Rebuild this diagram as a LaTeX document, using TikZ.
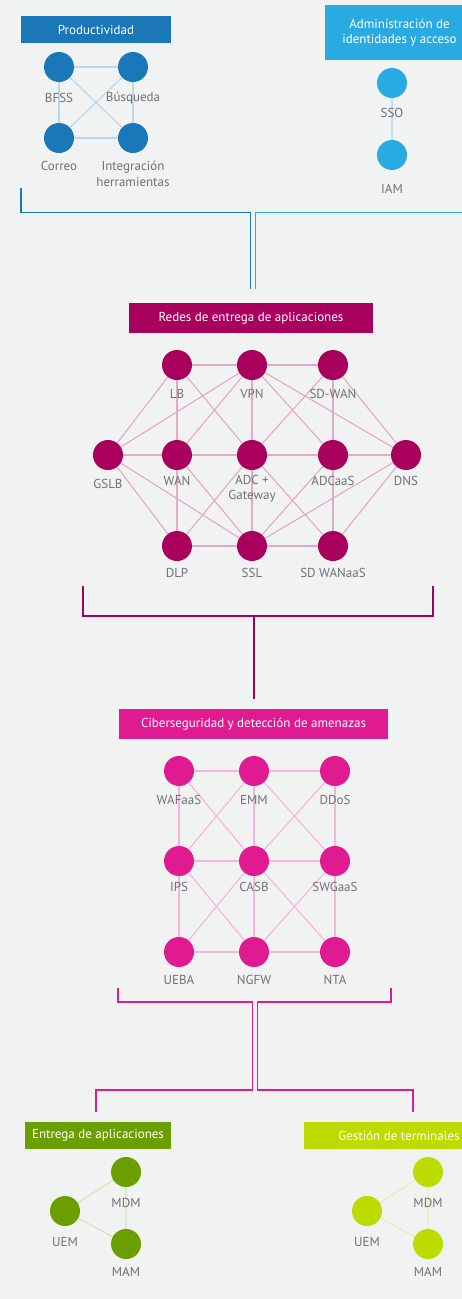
\documentclass[tikz,border=0pt]{standalone}
\usepackage{fontspec}
\setmainfont{PT Sans}
\usepackage{tikz}
\usetikzlibrary{%
  calc,
  positioning,
  backgrounds,
}

\definecolor{bgGray}{HTML}{F1F2F2}
\definecolor{txtGray}{HTML}{6F7275}
\definecolor{prodBlue}{HTML}{1A78B9}
\definecolor{prodEdge}{HTML}{BBD5E9}
\definecolor{iamBlue}{HTML}{29ABE2}
\definecolor{iamEdge}{HTML}{BCE2F3}
\definecolor{adnRed}{HTML}{A8005C}
\definecolor{adnEdge}{HTML}{E3A9C8}
\definecolor{secPink}{HTML}{E01A90}
\definecolor{secEdge}{HTML}{F3B6DA}
\definecolor{appGreen}{HTML}{6B9F00}
\definecolor{appEdge}{HTML}{D9E4BA}
\definecolor{endLime}{HTML}{BCDB00}
\definecolor{endEdge}{HTML}{E6EFBC}

\begin{document}
\begin{tikzpicture}[
    x = 1pt, y = -1pt,
    font = \fontsize{13}{16}\selectfont,
    dot/.style = {
      circle,
      fill = #1,
      minimum size = 30pt,
      inner sep = 0pt,
    },
    lbl/.style = {
      text = txtGray,
      inner sep = 0pt,
      align = center,
    },
    titlebox/.style = {
      fill = #1,
      text = white,
      inner sep = 0pt,
      align = center,
    },
    link/.style = {line width = 1.1pt, draw = #1},
    joint/.style = {line width = 1.4pt, draw = #1},
  ]
  \useasboundingbox (0,0) rectangle (462,1299);

  % titles
  \node[titlebox = prodBlue, minimum width = 150pt, minimum height = 27pt] (PROD) at (96,29.5) {Productividad};
  \node[titlebox = iamBlue, minimum width = 149pt, minimum height = 55pt] (IDAC) at (399.5,32.5) {Administración de\\[-1pt]identidades y acceso};
  \node[titlebox = adnRed, minimum width = 244pt, minimum height = 30pt] (REDES) at (251,318) {Redes de entrega de aplicaciones};
  \node[titlebox = secPink, minimum width = 269pt, minimum height = 30pt] (CIBER) at (253.5,724) {Ciberseguridad y detección de amenazas};
  \node[titlebox = appGreen, minimum width = 146pt, minimum height = 27pt] (ENTR) at (98,1135.5) {Entrega de aplicaciones};
  \node[titlebox = endLime, minimum width = 190pt, minimum height = 27pt] (GEST) at (399,1135.5) {Gestión de terminales};

  % productividad
  \node[dot = prodBlue] (BFSS) at (59,67) {};
  \node[dot = prodBlue] (BUSQ) at (133,67) {};
  \node[dot = prodBlue] (CORR) at (59,138) {};
  \node[dot = prodBlue] (INTG) at (133,138) {};
  \node[lbl] (BFSS-l) at (59,98) {BFSS};
  \node[lbl] (BUSQ-l) at (133,98) {Búsqueda};
  \node[lbl] (CORR-l) at (59,166) {Correo};
  \node[lbl] (INTG-l) at (133,174) {Integración\\herramientas};

  % identidades
  \node[dot = iamBlue] (SSO) at (392,83) {};
  \node[dot = iamBlue] (IAM) at (392,155) {};
  \node[lbl] (SSO-l) at (392,113) {SSO};
  \node[lbl] (IAM-l) at (392,189) {IAM};

  % redes de entrega
  \node[dot = adnRed] (LB) at (177,365) {};
  \node[dot = adnRed] (VPN) at (252,365) {};
  \node[dot = adnRed] (SDWAN) at (333,365) {};
  \node[dot = adnRed] (GSLB) at (108,455) {};
  \node[dot = adnRed] (WAN) at (177,455) {};
  \node[dot = adnRed] (ADC) at (252,455) {};
  \node[dot = adnRed] (ADCS) at (333,455) {};
  \node[dot = adnRed] (DNS) at (406,455) {};
  \node[dot = adnRed] (DLP) at (177,546) {};
  \node[dot = adnRed] (SSL) at (252,546) {};
  \node[dot = adnRed] (SDWS) at (333,546) {};
  \node[lbl] (LB-l) at (177,394) {LB};
  \node[lbl] (VPN-l) at (252,394) {VPN};
  \node[lbl] (SDWAN-l) at (333,394) {SD-WAN};
  \node[lbl] (GSLB-l) at (108,484) {GSLB};
  \node[lbl] (WAN-l) at (177,481) {WAN};
  \node[lbl] (ADC-l) at (252,488.5) {ADC +\\[-1pt]Gateway};
  \node[lbl] (ADCS-l) at (333,481) {ADCaaS};
  \node[lbl] (DNS-l) at (406,481) {DNS};
  \node[lbl] (DLP-l) at (177,573) {DLP};
  \node[lbl] (SSL-l) at (252,573) {SSL};
  \node[lbl] (SDWS-l) at (333,573) {SD WANaaS};

  % ciberseguridad
  \node[dot = secPink] (WAF) at (179,771) {};
  \node[dot = secPink] (EMM) at (254,771) {};
  \node[dot = secPink] (DDOS) at (335,771) {};
  \node[dot = secPink] (IPS) at (179,861) {};
  \node[dot = secPink] (CASB) at (254,861) {};
  \node[dot = secPink] (SWG) at (335,861) {};
  \node[dot = secPink] (UEBA) at (179,952) {};
  \node[dot = secPink] (NGFW) at (254,952) {};
  \node[dot = secPink] (NTA) at (335,952) {};
  \node[lbl] (WAF-l) at (179,800) {WAFaaS};
  \node[lbl] (EMM-l) at (254,800) {EMM};
  \node[lbl] (DDOS-l) at (335,800) {DDoS};
  \node[lbl] (IPS-l) at (179,887) {IPS};
  \node[lbl] (CASB-l) at (254,887) {CASB};
  \node[lbl] (SWG-l) at (335,887) {SWGaaS};
  \node[lbl] (UEBA-l) at (179,980) {UEBA};
  \node[lbl] (NGFW-l) at (254,980) {NGFW};
  \node[lbl] (NTA-l) at (335,980) {NTA};

  % entrega / terminales
  \node[dot = appGreen] (MDMa) at (126,1172) {};
  \node[dot = appGreen] (UEMa) at (65,1211) {};
  \node[dot = appGreen] (MAMa) at (126,1244) {};
  \node[lbl] (MDMa-l) at (126,1203) {MDM};
  \node[lbl] (UEMa-l) at (65,1242) {UEM};
  \node[lbl] (MAMa-l) at (126,1272) {MAM};
  \node[dot = endLime] (MDMb) at (428,1172) {};
  \node[dot = endLime] (UEMb) at (367,1211) {};
  \node[dot = endLime] (MAMb) at (428,1244) {};
  \node[lbl] (MDMb-l) at (428,1203) {MDM};
  \node[lbl] (UEMb-l) at (367,1242) {UEM};
  \node[lbl] (MAMb-l) at (428,1272) {MAM};

  % free ends of the joints
  \coordinate (p-out) at (21,188);
  \coordinate (p-in) at (250.7,289);
  \coordinate (i-out) at (470,212.7);
  \coordinate (i-in) at (255.3,289);
  \coordinate (r-left) at (83,586);
  \coordinate (r-right) at (433,586);
  \coordinate (r-mid) at (254,616);
  \coordinate (r-in) at (254,699);
  \coordinate (c-left) at (118,988);
  \coordinate (c-right) at (391,988);
  \coordinate (c-jl) at (252.7,1090);
  \coordinate (c-jr) at (257.3,1090);
  \coordinate (e-in) at (96,1112);
  \coordinate (g-in) at (413,1112);

  \begin{scope}[on background layer]
    \fill[bgGray] (0,0) rectangle (462,1299);

    \begin{scope}[link = prodEdge]
      \draw (BFSS) -- (BUSQ) (CORR) -- (INTG) (BFSS) -- (CORR) (BUSQ) -- (INTG);
      \draw (BFSS) -- (INTG) (BUSQ) -- (CORR);
    \end{scope}
    \draw[link = iamEdge] (SSO) -- (IAM);

    \begin{scope}[link = adnEdge]
      \draw (LB) -- (VPN) (VPN) -- (SDWAN);
      \draw (GSLB) -- (WAN) (WAN) -- (ADC) (ADC) -- (ADCS) (ADCS) -- (DNS);
      \draw (DLP) -- (SSL) (SSL) -- (SDWS);
      \draw (LB) -- (WAN) (WAN) -- (DLP) (VPN) -- (ADC) (ADC) -- (SSL);
      \draw (SDWAN) -- (ADCS) (ADCS) -- (SDWS);
      \draw (GSLB) -- (LB) (GSLB) -- (VPN) (GSLB) -- (DLP) (GSLB) -- (SSL);
      \draw (DNS) -- (SDWAN) (DNS) -- (VPN) (DNS) -- (SSL) (DNS) -- (SDWS);
      \draw (LB) -- (ADC) (VPN) -- (WAN) (VPN) -- (ADCS) (SDWAN) -- (ADC);
      \draw (WAN) -- (SSL) (ADC) -- (DLP) (ADC) -- (SDWS) (ADCS) -- (SSL);
    \end{scope}

    \begin{scope}[link = secEdge]
      \draw (WAF) -- (EMM) (EMM) -- (DDOS) (IPS) -- (CASB) (CASB) -- (SWG);
      \draw (UEBA) -- (NGFW) (NGFW) -- (NTA);
      \draw (WAF) -- (IPS) (IPS) -- (UEBA) (EMM) -- (CASB) (CASB) -- (NGFW);
      \draw (DDOS) -- (SWG) (SWG) -- (NTA);
      \draw (WAF) -- (CASB) (EMM) -- (IPS) (EMM) -- (SWG) (DDOS) -- (CASB);
      \draw (IPS) -- (NGFW) (CASB) -- (UEBA) (CASB) -- (NTA) (SWG) -- (NGFW);
    \end{scope}

    \draw[link = appEdge] (UEMa) -- (MDMa) (UEMa) -- (MAMa) (MDMa) -- (MAMa);
    \draw[link = endEdge] (UEMb) -- (MDMb) (UEMb) -- (MAMb) (MDMb) -- (MAMb);
  \end{scope}

  % joints between the groups
  \draw[joint = prodBlue] (p-out) -- ++(0,24.7) -| (p-in);
  \draw[joint = iamBlue] (i-out) -| (i-in);
  \draw[joint = adnRed] (r-left) -- ++(0,30) -| (r-right);
  \draw[joint = adnRed] (r-mid) -- (r-in);
  \draw[joint = secPink] (c-left) -- ++(0,14) -| (c-jl) -| (e-in);
  \draw[joint = secPink] (c-right) -- ++(0,14) -| (c-jr) -| (g-in);
\end{tikzpicture}
\end{document}
